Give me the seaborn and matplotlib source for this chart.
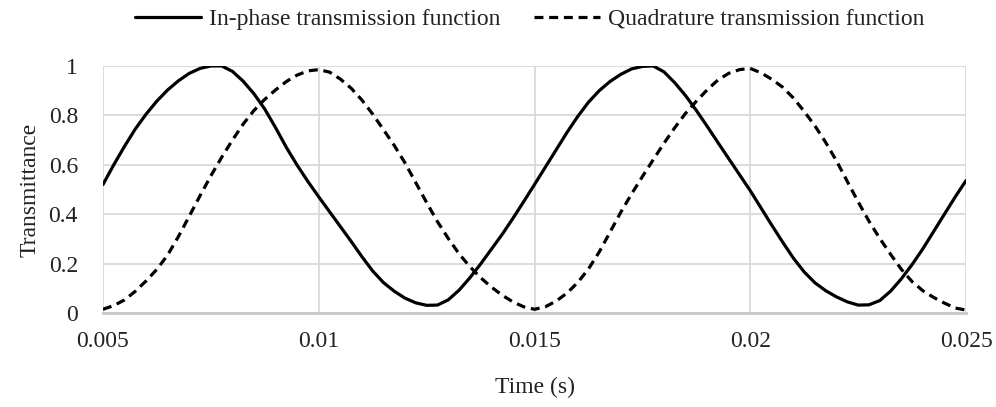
import matplotlib
matplotlib.use("Agg")
import matplotlib.pyplot as plt
import seaborn as sns
import numpy as np
import pandas as pd

# ---- data ----
time_s = [
    0.00500, 0.00525, 0.00550, 0.00575, 0.00600, 0.00625, 0.00650, 0.00675, 0.00700, 0.00725,
    0.00750, 0.00775, 0.00800, 0.00825, 0.00850, 0.00875, 0.00900, 0.00925, 0.00950, 0.00975,
    0.01000, 0.01025, 0.01050, 0.01075, 0.01100, 0.01125, 0.01150, 0.01175, 0.01200, 0.01225,
    0.01250, 0.01275, 0.01300, 0.01325, 0.01350, 0.01375, 0.01400, 0.01425, 0.01450, 0.01475,
    0.01500, 0.01525, 0.01550, 0.01575, 0.01600, 0.01625, 0.01650, 0.01675, 0.01700, 0.01725,
    0.01750, 0.01775, 0.01800, 0.01825, 0.01850, 0.01875, 0.01900, 0.01925, 0.01950, 0.01975,
    0.02000, 0.02025, 0.02050, 0.02075, 0.02100, 0.02125, 0.02150, 0.02175, 0.02200, 0.02225,
    0.02250, 0.02275, 0.02300, 0.02325, 0.02350, 0.02375, 0.02400, 0.02425, 0.02450, 0.02475,
    0.02500,
]

in_phase = [
    0.520, 0.600, 0.675, 0.745, 0.805, 0.858, 0.903, 0.940, 0.970, 0.990,
    1.000, 1.000, 0.978, 0.938, 0.887, 0.825, 0.750, 0.670, 0.598, 0.532,
    0.470, 0.410, 0.350, 0.290, 0.228, 0.170, 0.123, 0.088, 0.060, 0.041,
    0.031, 0.032, 0.053, 0.092, 0.142, 0.198, 0.258, 0.318, 0.383, 0.451,
    0.520, 0.590, 0.660, 0.730, 0.795, 0.853, 0.900, 0.937, 0.966, 0.988,
    0.998, 1.000, 0.976, 0.932, 0.880, 0.820, 0.756, 0.690, 0.625, 0.560,
    0.495, 0.425, 0.355, 0.287, 0.222, 0.166, 0.122, 0.090, 0.065, 0.045,
    0.032, 0.033, 0.050, 0.088, 0.138, 0.196, 0.260, 0.330, 0.400, 0.470,
    0.536,
]

quadrature = [
    0.015, 0.030, 0.053, 0.088, 0.130, 0.177, 0.235, 0.310, 0.392, 0.475,
    0.555, 0.630, 0.700, 0.765, 0.820, 0.865, 0.903, 0.937, 0.963, 0.980,
    0.985, 0.975, 0.947, 0.910, 0.862, 0.805, 0.742, 0.678, 0.607, 0.527,
    0.447, 0.370, 0.302, 0.240, 0.188, 0.143, 0.105, 0.072, 0.045, 0.025,
    0.015, 0.025, 0.048, 0.080, 0.123, 0.178, 0.247, 0.327, 0.408, 0.482,
    0.552, 0.620, 0.687, 0.750, 0.808, 0.857, 0.903, 0.943, 0.970, 0.985,
    0.990, 0.972, 0.946, 0.914, 0.870, 0.816, 0.757, 0.690, 0.615, 0.532,
    0.450, 0.372, 0.302, 0.238, 0.177, 0.127, 0.090, 0.063, 0.040, 0.020,
    0.012,
]

series_names = ["In-phase transmission function", "Quadrature transmission function"]
x_ticks = [0.005, 0.01, 0.015, 0.02, 0.025]
x_tick_labels = ["0.005", "0.01", "0.015", "0.02", "0.025"]
y_ticks = [0, 0.2, 0.4, 0.6, 0.8, 1.0]
y_tick_labels = ["0", "0.2", "0.4", "0.6", "0.8", "1"]

# ---- styling ----
sns.set_theme(style="white")
plt.rcParams["font.family"] = ["Liberation Serif", "DejaVu Serif"]

fig = plt.figure(figsize=(9.96, 4.07), dpi=100)
ax = fig.add_axes([0.1034, 0.231, 0.8665, 0.607])

df_in = pd.DataFrame({"t": time_s, "v": in_phase})
df_q = pd.DataFrame({"t": time_s, "v": quadrature})

sns.lineplot(data=df_in, x="t", y="v", ax=ax, color="black", linewidth=2.3,
             label=series_names[0])
sns.lineplot(data=df_q, x="t", y="v", ax=ax, color="black", linewidth=2.3,
             linestyle=(0, (2.8, 1.8)), label=series_names[1])

ax.set_xlim(0.005, 0.025)
ax.set_ylim(0, 1.0)
ax.set_xticks(x_ticks)
ax.set_xticklabels(x_tick_labels)
ax.set_yticks(y_ticks)
ax.set_yticklabels(y_tick_labels)
ax.tick_params(axis="both", length=0, labelsize=17, colors="#222222")
ax.tick_params(axis="x", pad=13)
ax.tick_params(axis="y", pad=18)

ax.grid(True, color="#d9d9d9", linewidth=1.3)
ax.set_axisbelow(True)
for side in ["top", "right", "left"]:
    ax.spines[side].set_visible(False)
ax.spines["bottom"].set_color("#c8c8c8")
ax.spines["bottom"].set_linewidth(2.0)

ax.set_xlabel("Time (s)", fontsize=17, color="#222222", labelpad=18)
ax.set_ylabel("Transmittance", fontsize=17, color="#222222", labelpad=6)

ax.get_legend().remove()
handles, labels = ax.get_legend_handles_labels()
fig.legend(handles, labels, loc="center", bbox_to_anchor=(0.532, 0.953), ncol=2,
           frameon=False, fontsize=17, handlelength=2.8, handletextpad=0.35,
           columnspacing=1.4, labelcolor="#222222")

fig.savefig("out.png", dpi=100)
